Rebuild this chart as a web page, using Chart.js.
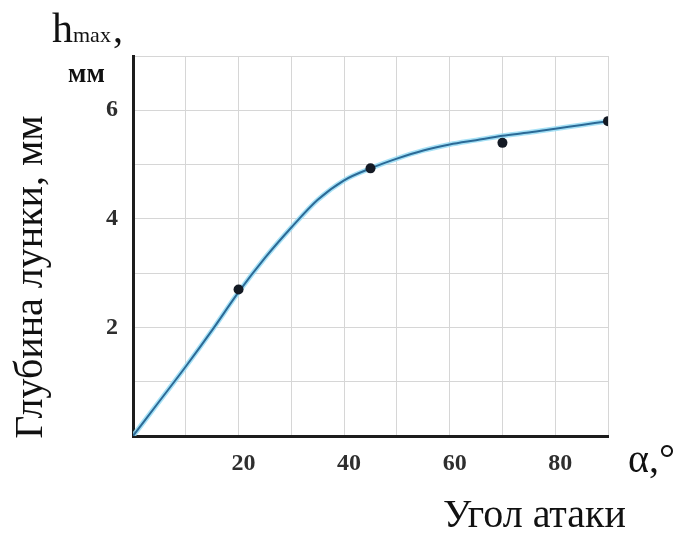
<!DOCTYPE html>
<html>
<head>
<meta charset="utf-8">
<script src="https://cdn.jsdelivr.net/npm/chart.js@4/dist/chart.umd.min.js"></script>
<style>
  html, body { margin: 0; padding: 0; background: #ffffff; }
  #wrap { width: 683px; height: 533px; position: relative; }
</style>
</head>
<body>
<div id="wrap"><canvas id="c" width="683" height="533"></canvas></div>
<script>
// Fitted curve (angle of attack, degrees -> depth, mm)
const curveAngles = [0, 5, 10, 15, 20, 25, 30, 35, 40, 45, 50, 55, 60, 65, 70, 75, 80, 85, 90];
const curveDepth  = [0, 0.64, 1.28, 1.95, 2.65, 3.28, 3.84, 4.35, 4.71, 4.93, 5.11, 5.26, 5.37, 5.45, 5.53, 5.59, 5.66, 5.73, 5.80];
// Measured points
const pointAngles = [20, 45, 70, 90];
const pointDepth  = [2.70, 4.93, 5.40, 5.80];
// Tick labels shown
const xTickLabels = [20, 40, 60, 80];
const yTickLabels = [2, 4, 6];
// Texts
const yTitle = 'Глубина лунки, мм';
const xTitle = 'Угол атаки';
const xUnit = 'α,°';
const yUnitH = 'h';
const yUnitSub = 'max';
const yUnitMm = 'мм';

const SERIF = '"Liberation Serif", "DejaVu Serif", serif';

const curvePts = curveAngles.map((a, i) => ({ x: a, y: curveDepth[i] }));
const dotPts = pointAngles.map((a, i) => ({ x: a, y: pointDepth[i] }));

const textPlugin = {
  id: 'texts',
  afterDraw(chart) {
    const ctx = chart.ctx;
    ctx.save();
    ctx.fillStyle = '#111';
    ctx.textBaseline = 'alphabetic';
    ctx.textAlign = 'left';
    // h max ,
    ctx.font = '42px ' + SERIF;
    ctx.fillText(yUnitH, 52, 42);
    ctx.font = '22px ' + SERIF;
    ctx.fillText(yUnitSub, 73, 42);
    ctx.font = '40px ' + SERIF;
    ctx.fillText(',', 113, 42);
    // мм
    ctx.font = 'bold 27px ' + SERIF;
    ctx.fillText(yUnitMm, 68, 82);
    // alpha
    ctx.font = '40px ' + SERIF;
    ctx.fillText(xUnit, 628, 472);
    // x title
    ctx.font = '40px ' + SERIF;
    ctx.fillText(xTitle, 443, 527);
    // y title rotated
    ctx.translate(42, 277);
    ctx.rotate(-Math.PI / 2);
    ctx.textAlign = 'center';
    ctx.fillText(yTitle, 0, 0);
    ctx.restore();
  }
};

new Chart(document.getElementById('c'), {
  type: 'scatter',
  data: {
    datasets: [
      {
        data: curvePts, showLine: true, pointRadius: 0,
        borderColor: 'rgba(150,220,245,0.85)', borderWidth: 5,
        cubicInterpolationMode: 'monotone', order: 3
      },
      {
        data: curvePts, showLine: true, pointRadius: 0,
        borderColor: '#2b6a97', borderWidth: 2,
        cubicInterpolationMode: 'monotone', order: 2
      },
      {
        data: dotPts, showLine: false, pointRadius: 5,
        pointBackgroundColor: '#141a24', pointBorderColor: '#141a24', pointBorderWidth: 0,
        order: 1
      }
    ]
  },
  options: {
    responsive: false,
    animation: false,
    events: [],
    layout: { padding: { left: 0, top: 56, right: 75, bottom: 0 } },
    plugins: { legend: { display: false }, tooltip: { enabled: false }, title: { display: false } },
    scales: {
      x: {
        type: 'linear', min: 0, max: 90,
        afterFit(s) { s.height = 97; },
        grid: { color: '#d6d6d6', lineWidth: 1, drawTicks: false },
        border: { display: true, color: '#1c1c1c', width: 3 },
        ticks: {
          stepSize: 10, autoSkip: false, maxRotation: 0, padding: 13, labelOffset: 5,
          color: '#2e2e2e', font: { family: SERIF, size: 24, weight: 'bold' },
          callback: v => xTickLabels.includes(v) ? String(v) : ''
        }
      },
      y: {
        type: 'linear', min: 0, max: 7,
        afterFit(s) { s.width = 133; },
        grid: { color: '#d6d6d6', lineWidth: 1, drawTicks: false },
        border: { display: true, color: '#1c1c1c', width: 3 },
        ticks: {
          stepSize: 1, autoSkip: false, padding: 15,
          color: '#2e2e2e', font: { family: SERIF, size: 24, weight: 'bold' },
          callback: v => yTickLabels.includes(v) ? String(v) : ''
        }
      }
    }
  },
  plugins: [textPlugin]
});
</script>
</body>
</html>
